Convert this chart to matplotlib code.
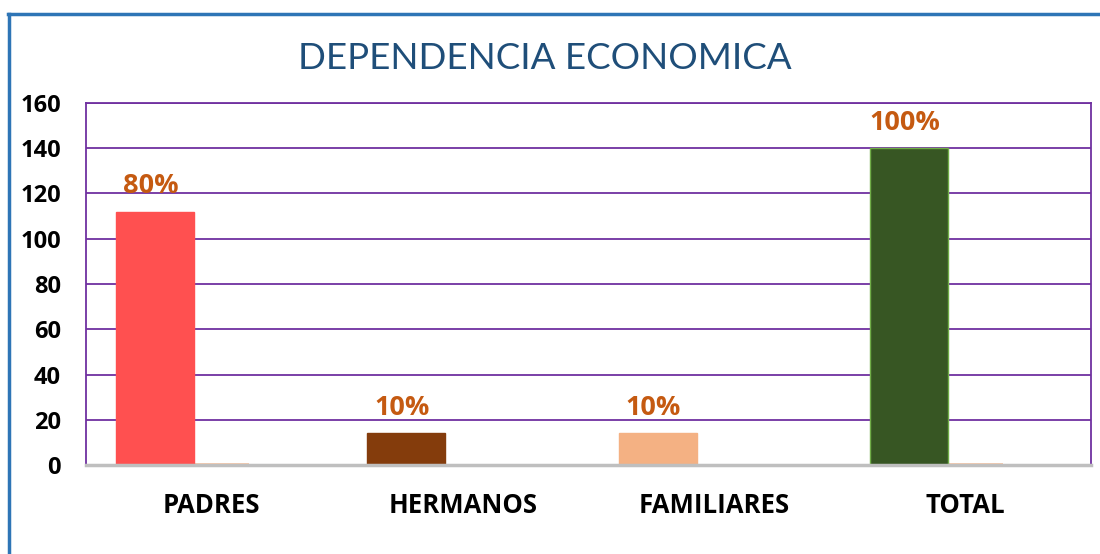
import matplotlib.pyplot as plt
from matplotlib.lines import Line2D
import numpy as np

categories = ['PADRES', 'HERMANOS', 'FAMILIARES', 'TOTAL']
counts = [112, 14, 14, 140]
shares = [0.8, 0.1, 0.1, 1.0]
share_labels = ['80%', '10%', '10%', '100%']
bar_colors = ['#FF5050', '#843C0C', '#F4B183', '#375623']
edge_colors = ['#FF5050', '#843C0C', '#F4B183', '#70AD47']

plt.rcParams['font.family'] = ['Lato', 'DejaVu Sans']
bold_font = ['Open Sans', 'DejaVu Sans']

fig = plt.figure(figsize=(11, 5.54), dpi=100)
ax = fig.add_axes([0.0782, 0.1606, 0.9136, 0.6535])

x = np.arange(len(categories))
# small share series sits behind the count bars
ax.bar(x, shares, 0.30, color='#F8CBAD', zorder=2)
bars = ax.bar(x - 0.225, counts, 0.31, color=bar_colors,
              edgecolor=edge_colors, linewidth=1, zorder=3)

for b, lab in zip(bars, share_labels):
    ax.annotate(lab, (b.get_x() + b.get_width() / 2, b.get_height()),
                xytext=(-3, 9), textcoords='offset points', ha='center', va='bottom',
                fontsize=19.5, fontweight='bold', color='#C55A11', family=bold_font)

ax.set_xlim(-0.5, len(categories) - 0.5)
ax.set_ylim(0, 160)
ax.set_yticks(range(0, 161, 20))
ax.set_xticks(x)
ax.set_xticklabels(categories, fontsize=18.5, fontweight='bold', family=bold_font)
for t in ax.get_yticklabels():
    t.set_fontsize(17)
    t.set_fontweight('bold')
    t.set_family(bold_font)
ax.tick_params(axis='y', length=0, pad=18)
ax.tick_params(axis='x', length=0, pad=19.5)

ax.yaxis.grid(True, color='#7030A0', linewidth=1.3, zorder=1)
ax.set_axisbelow(True)
for s in ['left', 'top', 'right']:
    ax.spines[s].set_color('#7030A0')
    ax.spines[s].set_linewidth(1.3)
ax.spines['bottom'].set_color('#BFBFBF')
ax.spines['bottom'].set_linewidth(2.5)
ax.spines['bottom'].set_zorder(4)

fig.text(0.495, 0.894, 'DEPENDENCIA ECONOMICA', ha='center', va='center',
         fontsize=26.5, color='#1F4E79')

# chart frame (blue, left and top edges)
fig.add_artist(Line2D([0.0082, 0.0082], [0, 0.974], color='#2E75B6', linewidth=2.5))
fig.add_artist(Line2D([0.007, 1.0], [0.974, 0.974], color='#2E75B6', linewidth=2.5))

fig.savefig('out.png', dpi=100)
